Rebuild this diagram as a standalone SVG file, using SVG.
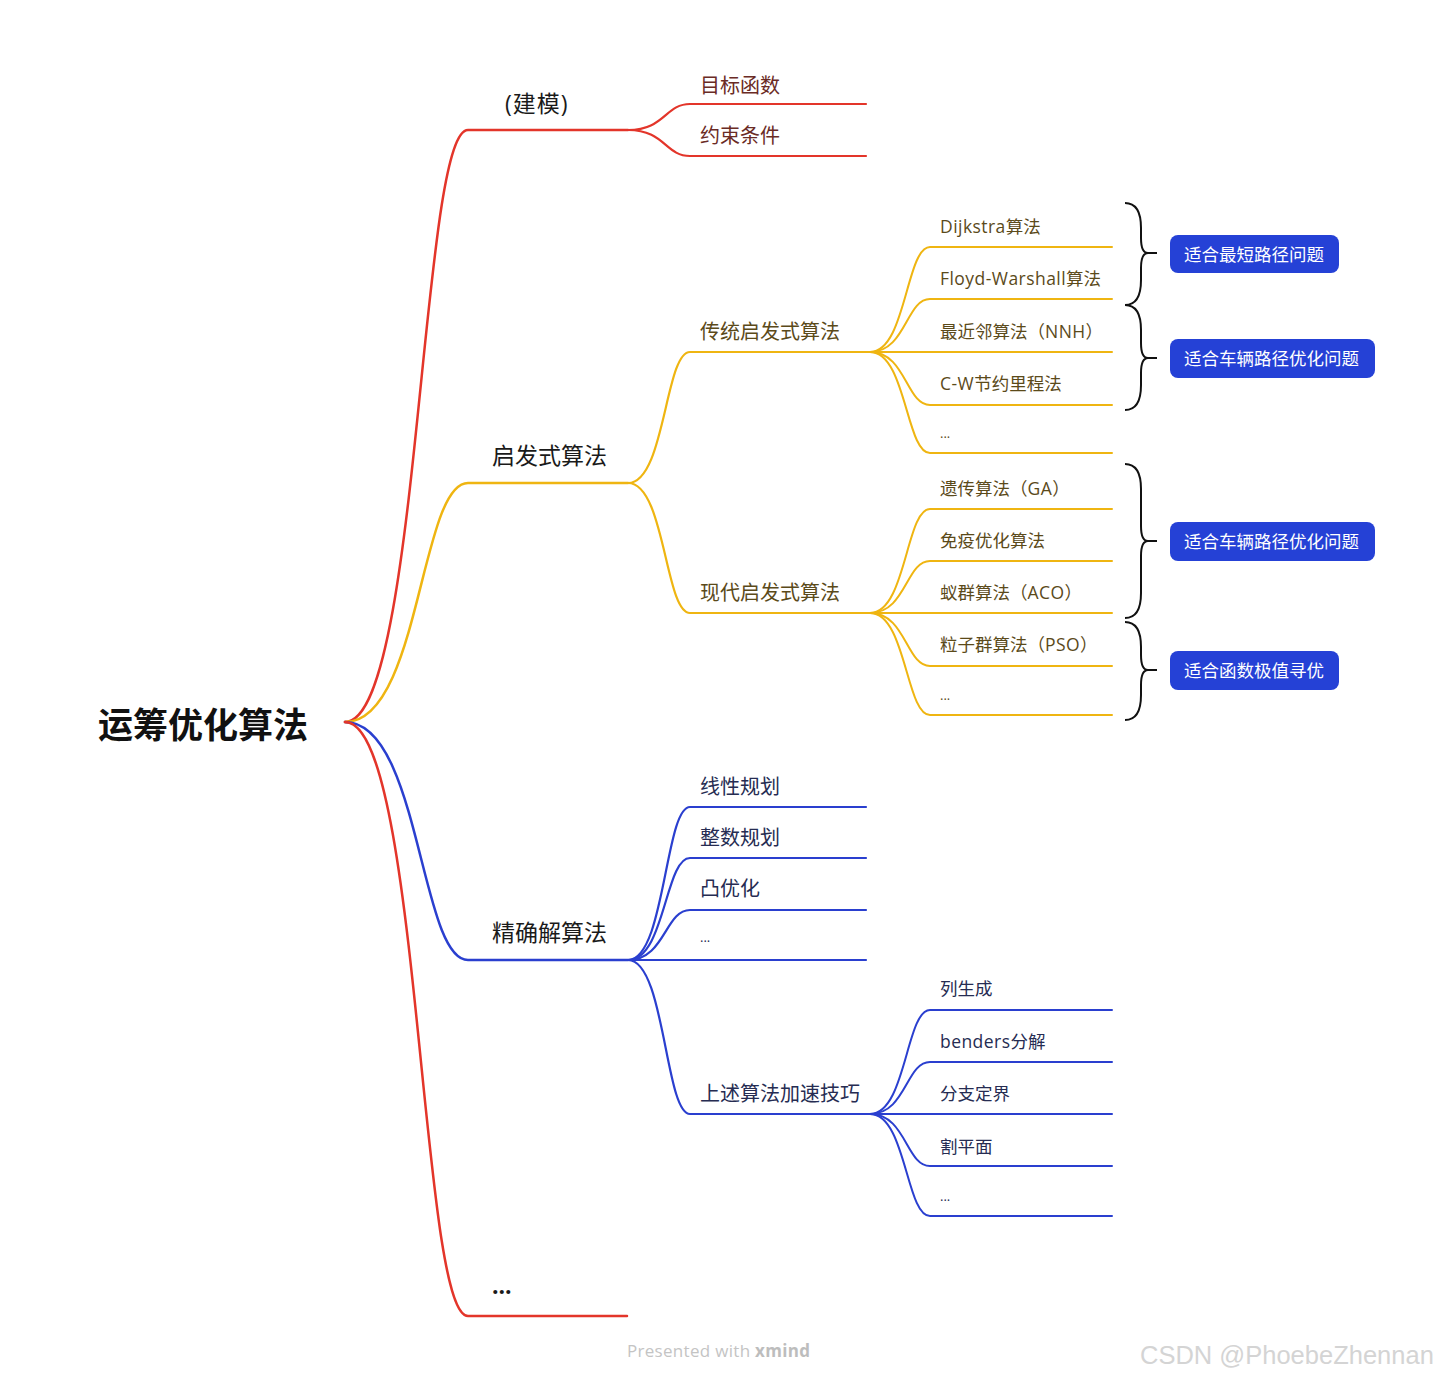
<svg xmlns="http://www.w3.org/2000/svg" width="1437" height="1381" viewBox="0 0 1437 1381">
<style>
text{font-family:"Open Sans","Noto Sans CJK SC",sans-serif;dominant-baseline:central}
.root{font-size:35px;font-weight:700;fill:#111}
.l1{font-size:23px;fill:#1a1a1a}
.l2{font-size:20px}
.l3{font-size:17.5px}
.lat{letter-spacing:0.45px}
.r{fill:#6a2b25}.y{fill:#5b4a1a}.b{fill:#262c52}
.cr,.cy,.cb{fill:none;stroke-linecap:round}
.cr{stroke:#e3352a}.cy{stroke:#efb511}.cb{stroke:#2a3fcf}
.w1{stroke-width:2.5}.w2{stroke-width:2.2}.w3{stroke-width:2}
.brace{fill:none;stroke:#111;stroke-width:2}
.tag rect{fill:#2541d6}
.tag text{fill:#fff;font-size:17.5px}
.dots{font-size:13px}
</style>
<rect width="1437" height="1381" fill="#fff"/>
<g id="connectors">
<path class="cr w1" d="M345,722 C420,722 420,130 468,130 H628"/>
<path class="cy w1" d="M345,722 C420,722 420,483 468,483 H628"/>
<path class="cb w1" d="M345,722 C420,722 420,960 468,960 H628"/>
<path class="cr w1" d="M345,722 C420,722 420,1316 468,1316 H627"/>
<path class="cr w2" d="M628,130 C665,130 665,104 690,104 H866"/>
<path class="cr w2" d="M628,130 C665,130 665,156 690,156 H866"/>
<path class="cy w2" d="M628,483 C665,483 665,352 690,352 H870"/>
<path class="cy w2" d="M628,483 C665,483 665,613 690,613 H870"/>
<path class="cb w2" d="M628,960 C665,960 665,807 690,807 H866"/>
<path class="cb w2" d="M628,960 C665,960 665,858 690,858 H866"/>
<path class="cb w2" d="M628,960 C665,960 665,910 690,910 H866"/>
<path class="cb w2" d="M628,960 H866"/>
<path class="cb w2" d="M628,960 C665,960 665,1114 690,1114 H870"/>
<path class="cy w3" d="M870,352 C906,352 906,247 930,247 H1112"/>
<path class="cy w3" d="M870,352 C906,352 906,299 930,299 H1112"/>
<path class="cy w3" d="M870,352 H1112"/>
<path class="cy w3" d="M870,352 C906,352 906,405 930,405 H1112"/>
<path class="cy w3" d="M870,352 C906,352 906,453 930,453 H1112"/>
<path class="cy w3" d="M870,613 C906,613 906,509 930,509 H1112"/>
<path class="cy w3" d="M870,613 C906,613 906,561 930,561 H1112"/>
<path class="cy w3" d="M870,613 H1112"/>
<path class="cy w3" d="M870,613 C906,613 906,666 930,666 H1112"/>
<path class="cy w3" d="M870,613 C906,613 906,715 930,715 H1112"/>
<path class="cb w3" d="M870,1114 C906,1114 906,1010 930,1010 H1112"/>
<path class="cb w3" d="M870,1114 C906,1114 906,1062 930,1062 H1112"/>
<path class="cb w3" d="M870,1114 H1112"/>
<path class="cb w3" d="M870,1114 C906,1114 906,1166 930,1166 H1112"/>
<path class="cb w3" d="M870,1114 C906,1114 906,1216 930,1216 H1112"/>
<path class="brace" d="M1125,203 C1137,203 1141,213 1141,228 L1141,238 C1141,248 1143,253 1148,253 C1143,253 1141,258 1141,268 L1141,280 C1141,295 1137,305 1125,305 M1148,253 H1157"/>
<path class="brace" d="M1125,305 C1137,305 1141,315 1141,330 L1141,343 C1141,353 1143,358 1148,358 C1143,358 1141,363 1141,373 L1141,385 C1141,400 1137,410 1125,410 M1148,358 H1157"/>
<path class="brace" d="M1125,464 C1137,464 1141,474 1141,489 L1141,526 C1141,536 1143,541 1148,541 C1143,541 1141,546 1141,556 L1141,593 C1141,608 1137,618 1125,618 M1148,541 H1157"/>
<path class="brace" d="M1125,622 C1137,622 1141,632 1141,647 L1141,655 C1141,665 1143,670 1148,670 C1143,670 1141,675 1141,685 L1141,695 C1141,710 1137,720 1125,720 M1148,670 H1157"/>
</g>
<g id="root"><text class="root" x="98" y="724">运筹优化算法</text></g>
<g id="n-jianmo"><text class="l1" x="505" y="103" letter-spacing="1">(建模)</text></g>
<g id="n-mubiao"><text class="l2 r" x="700" y="85">目标函数</text></g>
<g id="n-yueshu"><text class="l2 r" x="700" y="135">约束条件</text></g>
<g id="n-qifa"><text class="l1" x="492" y="455">启发式算法</text></g>
<g id="n-chuantong"><text class="l2 y" x="700" y="331">传统启发式算法</text></g>
<g id="n-xiandai"><text class="l2 y" x="700" y="592">现代启发式算法</text></g>
<g id="n-dijkstra"><text class="l3 y" x="940" y="226"><tspan class="lat">Dijkstra</tspan>算法</text></g>
<g id="n-floyd"><text class="l3 y" x="940" y="278"><tspan class="lat">Floyd-Warshall</tspan>算法</text></g>
<g id="n-nnh"><text class="l3 y" x="940" y="331">最近邻算法（<tspan class="lat">NNH</tspan>）</text></g>
<g id="n-cw"><text class="l3 y" x="940" y="383"><tspan class="lat">C-W</tspan>节约里程法</text></g>
<g id="n-y1dots"><text class="dots y" x="940" y="433">...</text></g>
<g id="n-ga"><text class="l3 y" x="940" y="488">遗传算法（<tspan class="lat">GA</tspan>）</text></g>
<g id="n-mianyi"><text class="l3 y" x="940" y="540">免疫优化算法</text></g>
<g id="n-aco"><text class="l3 y" x="940" y="592">蚁群算法（<tspan class="lat">ACO</tspan>）</text></g>
<g id="n-pso"><text class="l3 y" x="940" y="644">粒子群算法（<tspan class="lat">PSO</tspan>）</text></g>
<g id="n-y2dots"><text class="dots y" x="940" y="695">...</text></g>
<g id="n-jingque"><text class="l1" x="492" y="932">精确解算法</text></g>
<g id="n-xianxing"><text class="l2 b" x="700" y="786">线性规划</text></g>
<g id="n-zhengshu"><text class="l2 b" x="700" y="837">整数规划</text></g>
<g id="n-tu"><text class="l2 b" x="700" y="888">凸优化</text></g>
<g id="n-bdots"><text class="dots b" x="700" y="937">...</text></g>
<g id="n-jiasu"><text class="l2 b" x="700" y="1093">上述算法加速技巧</text></g>
<g id="n-liesheng"><text class="l3 b" x="940" y="988">列生成</text></g>
<g id="n-benders"><text class="l3 b" x="940" y="1041"><tspan class="lat">benders</tspan>分解</text></g>
<g id="n-fenzhi"><text class="l3 b" x="940" y="1093">分支定界</text></g>
<g id="n-gepingmian"><text class="l3 b" x="940" y="1146">割平面</text></g>
<g id="n-b2dots"><text class="dots b" x="940" y="1196">...</text></g>
<g id="n-more"><text class="l1" x="492" y="1285" font-weight="700" font-size="16">...</text></g>
<g id="tag1" class="tag"><rect x="1170" y="235" width="169" height="38" rx="8"/><text x="1184" y="254">适合最短路径问题</text></g>
<g id="tag2" class="tag"><rect x="1170" y="339" width="205" height="39" rx="8"/><text x="1184" y="358">适合车辆路径优化问题</text></g>
<g id="tag3" class="tag"><rect x="1170" y="522" width="205" height="39" rx="8"/><text x="1184" y="541">适合车辆路径优化问题</text></g>
<g id="tag4" class="tag"><rect x="1170" y="651" width="169" height="39" rx="8"/><text x="1184" y="670">适合函数极值寻优</text></g>
<text x="627" y="1350" font-size="17" letter-spacing="0.3" fill="#c4c4c4">Presented with <tspan font-weight="700" fill="#bdbdbd">xmind</tspan></text>
<text x="1140" y="1355" font-size="25.5" fill="#d4d4d4" style="font-family:'Liberation Sans',sans-serif">CSDN @PhoebeZhennan</text>
</svg>
